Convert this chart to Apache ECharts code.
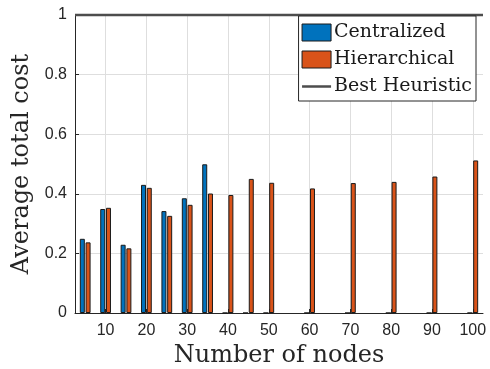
<!DOCTYPE html>
<html>
<head>
<meta charset="utf-8">
<script src="https://cdn.jsdelivr.net/npm/echarts@6/dist/echarts.min.js"></script>
<style>html,body{margin:0;padding:0;background:#fff}#c{width:490px;height:369px}</style>
</head>
<body>
<div id="c"></div>
<script>
const nodes = [5, 10, 15, 20, 25, 30, 35, 40, 45, 50, 60, 70, 80, 90, 100];
const centralized = [0.249, 0.349, 0.229, 0.430, 0.342, 0.385, 0.499, 0, 0, 0, 0, 0, 0, 0, 0];
const hierarchical = [0.237, 0.353, 0.217, 0.420, 0.326, 0.363, 0.401, 0.396, 0.450, 0.437, 0.418, 0.436, 0.440, 0.458, 0.512];
const bestHeuristic = 1;
const xTicks = [10, 20, 30, 40, 50, 60, 70, 80, 90, 100];
const yTicks = [0, 0.2, 0.4, 0.6, 0.8, 1];
const xMin = 2.5, xMax = 102.5;

const chart = echarts.init(document.getElementById('c'));
const sans = 'Liberation Sans';
const serif = 'DejaVu Serif';
const lineIcon = 'path://M0,0 L0.01,0 L0,0.01 Z M29,17 L28.99,17 L29,16.99 Z M0,7.25 L29,7.25 L29,9.75 L0,9.75 Z';
chart.setOption({
  animation: false,
  grid: { left: 75, right: 7, top: 15, bottom: 56, outerBoundsMode: 'none', containLabel: false },
  legend: {
    orient: 'vertical',
    right: 14, top: 16,
    padding: [7, 4, 5, 3],
    itemWidth: 29, itemHeight: 17, itemGap: 8,
    backgroundColor: '#fff',
    borderColor: '#262626', borderWidth: 1, borderRadius: 0,
    textStyle: { fontFamily: serif, fontSize: 19, color: '#1a1a1a', padding: [0, 0, 0, -2] },
    data: [
      { name: 'Centralized', icon: 'rect', itemStyle: { borderWidth: 1, borderColor: '#1a1a1a' } },
      { name: 'Hierarchical', icon: 'rect', itemStyle: { borderWidth: 1, borderColor: '#1a1a1a' } },
      { name: 'Best Heuristic', icon: lineIcon, itemStyle: { color: '#4d4d4d', borderWidth: 0 } }
    ]
  },
  xAxis: {
    type: 'value', min: xMin, max: xMax,
    name: 'Number of nodes', nameLocation: 'middle', nameGap: 30,
    nameTextStyle: { fontFamily: serif, fontSize: 24, color: '#262626' },
    axisLine: { show: true, lineStyle: { color: '#262626', width: 1 } },
    axisTick: { show: true, inside: true, length: 4, customValues: xTicks, lineStyle: { color: '#262626' } },
    axisLabel: { customValues: xTicks, fontFamily: sans, fontSize: 16, color: '#262626', margin: 10 },
    splitLine: { show: true, lineStyle: { color: '#dedede', width: 1 } }
  },
  yAxis: {
    type: 'value', min: 0, max: 1, interval: 0.2,
    name: 'Average total cost', nameLocation: 'middle', nameGap: 39,
    nameTextStyle: { fontFamily: serif, fontSize: 24, color: '#262626' },
    axisLine: { show: true, lineStyle: { color: '#262626', width: 1 } },
    axisTick: { show: true, inside: true, length: 4, lineStyle: { color: '#262626' } },
    axisLabel: { fontFamily: sans, fontSize: 16, color: '#262626', margin: 8,
      formatter: v => (yTicks.includes(+v.toFixed(1)) ? String(+v.toFixed(1)) : '') },
    splitLine: { show: true, lineStyle: { color: '#dedede', width: 1 } }
  },
  series: [
    {
      name: 'Centralized', type: 'bar', barWidth: 5, barGap: '15%',
      itemStyle: { color: '#0072BD', borderColor: '#1a1a1a', borderWidth: 1 },
      data: nodes.map((n, i) => [n, centralized[i]])
    },
    {
      name: 'Hierarchical', type: 'bar', barWidth: 5, barGap: '15%',
      itemStyle: { color: '#D95319', borderColor: '#1a1a1a', borderWidth: 1 },
      data: nodes.map((n, i) => [n, hierarchical[i]])
    },
    {
      name: 'Best Heuristic', type: 'line', symbol: 'none', clip: false,
      lineStyle: { color: '#4d4d4d', width: 2.5 },
      itemStyle: { color: '#4d4d4d' },
      data: [[xMin, bestHeuristic], [xMax, bestHeuristic]]
    }
  ]
});
</script>
</body>
</html>
